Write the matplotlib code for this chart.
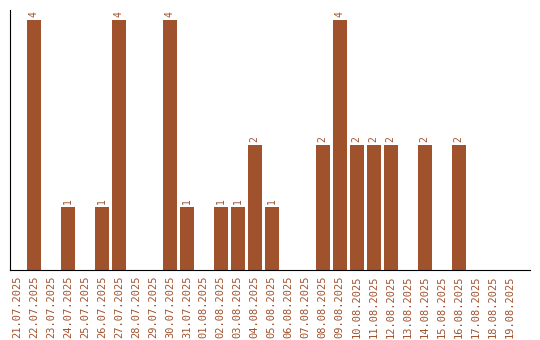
import numpy as np
import matplotlib
matplotlib.use('Agg')
import matplotlib.pyplot as plt

dates = ['21.07.2025', '22.07.2025', '23.07.2025', '24.07.2025', '25.07.2025',
         '26.07.2025', '27.07.2025', '28.07.2025', '29.07.2025', '30.07.2025',
         '31.07.2025', '01.08.2025', '02.08.2025', '03.08.2025', '04.08.2025',
         '05.08.2025', '06.08.2025', '07.08.2025', '08.08.2025', '09.08.2025',
         '10.08.2025', '11.08.2025', '12.08.2025', '13.08.2025', '14.08.2025',
         '15.08.2025', '16.08.2025', '17.08.2025', '18.08.2025', '19.08.2025']
counts = [0, 4, 0, 1, 0, 1, 4, 0, 0, 4, 1, 0, 1, 1, 2, 1, 0, 0, 2, 4,
          2, 2, 2, 0, 2, 0, 2, 0, 0, 0]

col = '#a0522d'

fig = plt.figure(figsize=(5.4, 3.4), dpi=100)
ax = fig.add_axes([0.0185, 0.206, 0.963, 0.765])

x = np.arange(len(dates))
bars = ax.bar(x, counts, width=0.82, color=col)
for xi, v in zip(x, counts):
    if v > 0:
        ax.text(xi, v + 0.05, str(v), rotation=90, ha='center', va='bottom',
                color=col, fontsize=7, family='DejaVu Sans Mono')

ax.set_xlim(-0.41, 30.2)
ax.set_ylim(0, 4.16)
ax.set_xticks(x)
ax.set_xticklabels(dates, rotation=90, color=col, fontsize=7.5, family='DejaVu Sans Mono')
ax.tick_params(axis='x', length=0, pad=4)
ax.set_yticks([])
ax.spines['top'].set_visible(False)
ax.spines['right'].set_visible(False)

fig.savefig('out.png', dpi=100)
